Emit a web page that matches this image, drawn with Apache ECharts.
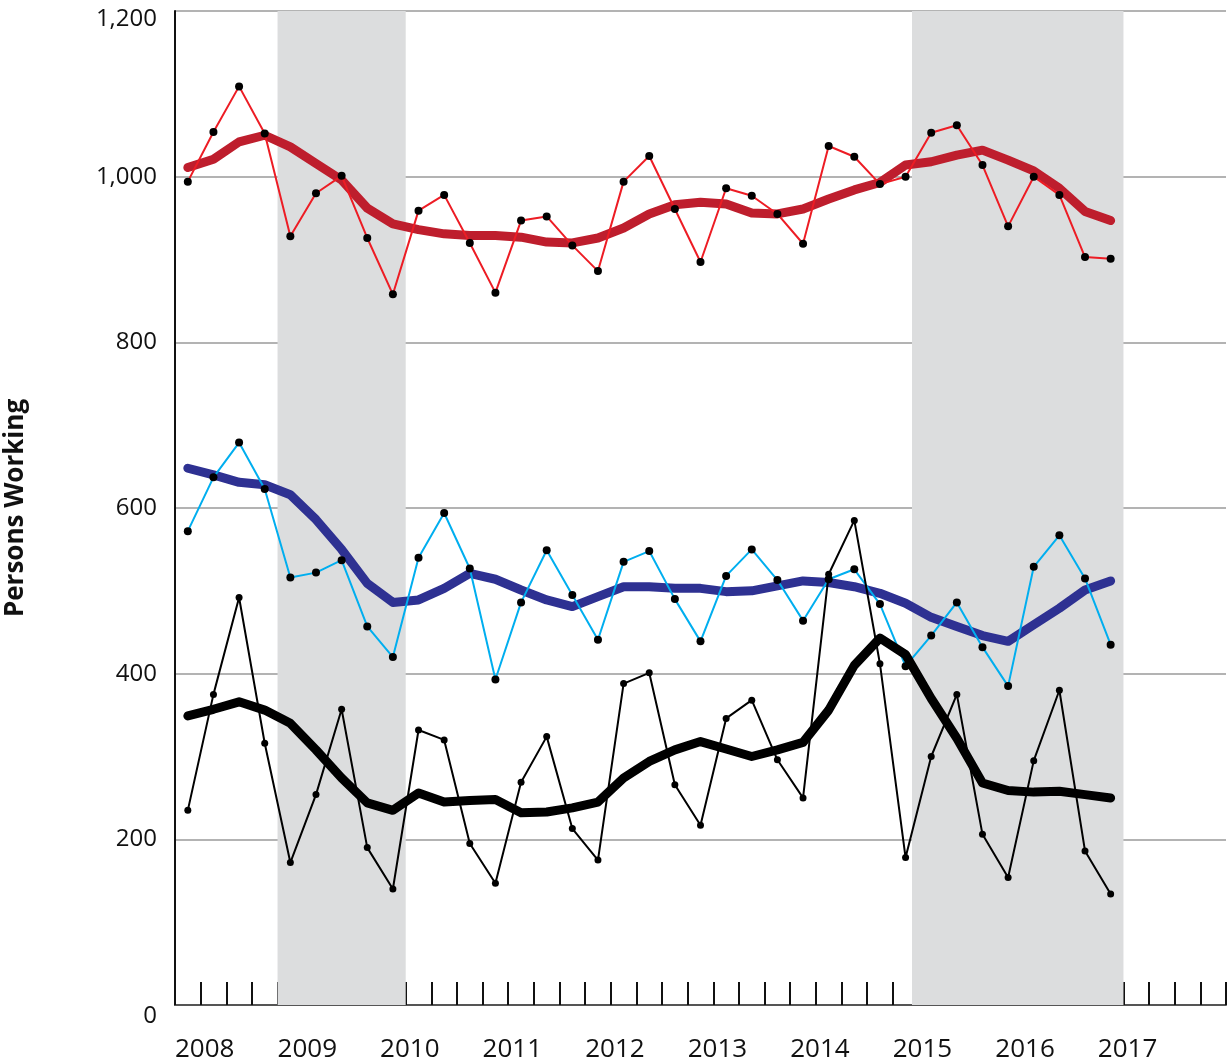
<!DOCTYPE html>
<html>
<head>
<meta charset="utf-8">
<script src="https://cdn.jsdelivr.net/npm/echarts@6/dist/echarts.min.js"></script>
<style>html,body{margin:0;padding:0;background:#fff}#c{width:1228px;height:1064px}</style>
</head>
<body>
<div id="c"></div>
<script>
// Quarter categories (2008 Q1 .. 2018 Q1)
const quarters = [
  '2008Q1','2008Q2','2008Q3','2008Q4','2009Q1','2009Q2','2009Q3','2009Q4',
  '2010Q1','2010Q2','2010Q3','2010Q4','2011Q1','2011Q2','2011Q3','2011Q4',
  '2012Q1','2012Q2','2012Q3','2012Q4','2013Q1','2013Q2','2013Q3','2013Q4',
  '2014Q1','2014Q2','2014Q3','2014Q4','2015Q1','2015Q2','2015Q3','2015Q4',
  '2016Q1','2016Q2','2016Q3','2016Q4','2017Q1','2017Q2','2017Q3','2017Q4','2018Q1'
];
const yearLabels = ['2008','2009','2010','2011','2012','2013','2014','2015','2016','2017'];
const yTicks = [0, 200, 400, 600, 800, 1000, 1200];

// Red: quarterly values and moving average
const redQuarterly = [994,1054,1109,1052,928,980,1001,926,858,959,978,920,860,947,952,917,886,994,1025,961,897,986,977,955,919,1037,1024,991,1000,1053,1062,1014,940,1000,978,903,901];
const redAverage   = [1011,1021,1042,1050,1036,1016,996,962,943,936,931,929,929,927,921,920,926,938,955,966,969,967,956,955,961,973,984,993,1014,1018,1026,1032,1020,1007,986,958,947];

// Blue: quarterly values and moving average
const blueQuarterly = [572,637,679,623,516,522,537,457,420,540,594,527,393,486,549,495,441,535,548,490,439,518,550,513,464,514,526,484,409,446,486,432,385,529,567,515,435];
const blueAverage   = [648,640,631,628,616,586,550,509,486,489,503,521,514,501,489,481,493,505,505,503,503,499,500,506,512,510,505,497,485,468,457,446,439,459,479,501,512];

// Black: quarterly values and moving average
const blackQuarterly = [235,375,492,316,172,254,357,190,140,332,320,195,147,269,324,213,175,388,401,266,217,346,368,296,250,520,585,412,178,300,375,206,154,295,380,186,134];
const blackAverage   = [349,357,366,356,340,308,274,244,235,256,245,247,248,232,233,238,245,274,294,308,318,309,300,308,317,356,410,443,423,370,322,268,259,257,258,254,250];

// Shaded periods, in quarter units from the start of 2008
const shadeStart = [4, 28.75];
const shadeEnd   = [9, 37];

const FONT = '"Open Sans", "Noto Sans", sans-serif';

function thick(data, color, width) {
  return {
    type: 'line', data: data, xAxisIndex: 0, yAxisIndex: 0,
    symbol: 'none', silent: true,
    lineStyle: { color: color, width: width, cap: 'round', join: 'round' }
  };
}
function thin(data, color, size) {
  return {
    type: 'line', data: data, xAxisIndex: 0, yAxisIndex: 0,
    symbol: 'circle', symbolSize: size, showSymbol: true, showAllSymbol: true, silent: true,
    itemStyle: { color: '#000', borderWidth: 0 },
    lineStyle: { color: color, width: 2, join: 'round' }
  };
}

const chart = echarts.init(document.getElementById('c'), null, { renderer: 'canvas' });
chart.setOption({
  animation: false,
  backgroundColor: '#fff',
  grid: { left: 175, right: 2, top: 11, bottom: 59, containLabel: false, outerBoundsMode: 'none' },
  xAxis: [
    {
      type: 'category', data: quarters, boundaryGap: true, position: 'bottom',
      axisLine: { show: true, lineStyle: { color: '#555', width: 2 } },
      axisTick: { show: true, inside: true, length: 23, interval: 0, lineStyle: { color: '#111', width: 2 } },
      axisLabel: { show: false },
      splitLine: { show: false }
    },
    {
      type: 'value', min: 0, max: quarters.length, interval: 4, position: 'bottom',
      axisLine: { show: false }, axisTick: { show: false }, splitLine: { show: false },
      axisLabel: {
        align: 'left', margin: 32, fontSize: 26, color: '#111', fontFamily: FONT,
        showMaxLabel: false,
        formatter: function (v) {
          const k = v / 4;
          return (Number.isInteger(k) && k < yearLabels.length) ? yearLabels[k] : '';
        }
      }
    }
  ],
  yAxis: {
    type: 'value', min: yTicks[0], max: yTicks[yTicks.length - 1], interval: yTicks[1] - yTicks[0],
    axisLine: { show: true, lineStyle: { color: '#111', width: 2 } },
    axisTick: { show: false },
    splitLine: { show: true, lineStyle: { color: '#9a9a9a', width: 1.5 } },
    axisLabel: {
      margin: 18, fontSize: 24, color: '#111', fontFamily: FONT,
      formatter: function (v) {
        const s = v.toLocaleString('en-US');
        if (v === yTicks[yTicks.length - 1]) return '{t|' + s + '}';
        if (v === yTicks[0]) return '{z|' + s + '}';
        return s;
      },
      rich: {
        t: { fontSize: 24, color: '#111', fontFamily: FONT, padding: [16, 0, 0, 0] },
        z: { fontSize: 24, color: '#111', fontFamily: FONT, padding: [22, 0, 0, 0] }
      }
    },
    name: 'Persons Working', nameLocation: 'middle', nameGap: 146, nameRotate: 90,
    nameTextStyle: { fontSize: 26, fontWeight: 'bold', color: '#111', fontFamily: FONT }
  },
  series: [
    {
      type: 'line', xAxisIndex: 1, yAxisIndex: 0, data: [], z: -1, silent: true,
      markArea: {
        silent: true,
        itemStyle: { color: '#DCDDDE' },
        data: shadeStart.map(function (s, i) { return [{ xAxis: s }, { xAxis: shadeEnd[i] }]; })
      }
    },
    thick(blueAverage, '#2E3192', 9),
    thin(blueQuarterly, '#00AEEF', 8),
    thick(redAverage, '#BE1E2D', 9),
    thin(redQuarterly, '#ED1C24', 8),
    thick(blackAverage, '#000000', 9),
    thin(blackQuarterly, '#000000', 7)
  ]
});
</script>
</body>
</html>
